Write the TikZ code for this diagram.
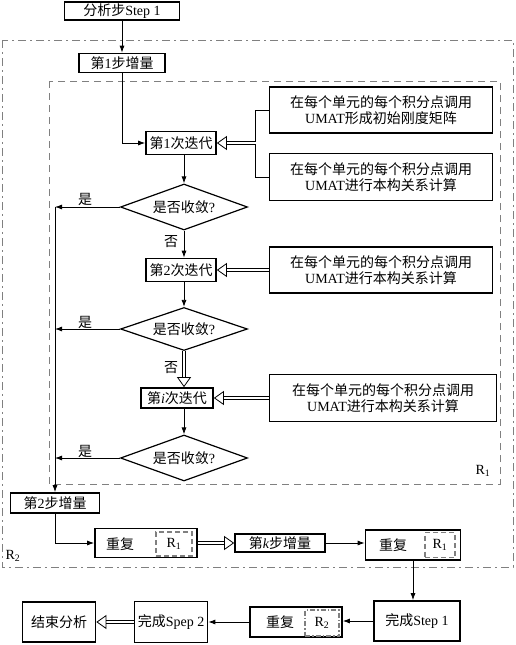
\documentclass[tikz,border=0pt]{standalone}
\usepackage{fontspec}
\setmainfont{Liberation Serif}
\newfontfamily\cjk{Noto Sans CJK SC}
\usetikzlibrary{arrows.meta,shapes.geometric}
\newcommand\myfs{\fontsize{14}{16.5}\selectfont}
\newcommand\zh[1]{{\cjk #1}}
\begin{document}
\begin{tikzpicture}[x=1pt,y=-1pt,
 box/.style={draw, line width=1.7pt, inner sep=0pt, align=center, font=\myfs},
 dia/.style={draw, diamond, line width=1.2pt, inner sep=0pt, minimum width=127pt, minimum height=46pt, aspect=2.7, font=\myfs},
 arr/.style={line width=0.8pt, -{Latex[length=7pt,width=5pt]}},
 ln/.style={line width=0.8pt},
 hol/.style={double, double distance=2.6pt, line width=0.8pt, -{Triangle[open,length=10pt,width=14pt]}},
 lab/.style={font=\myfs, inner sep=0pt},
 rone/.style={draw=gray, dash pattern=on 7pt off 5pt, line width=1pt},
 rtwo/.style={draw=gray, dash pattern=on 8pt off 4pt on 2pt off 4pt, line width=1pt},
 inr/.style={draw=gray, line width=1.3pt, inner sep=0pt, font=\myfs},
]
\useasboundingbox (0,0) rectangle (515,645);
\draw[rone] (49,81) rectangle (500,484);
\draw[rtwo] (2,40) rectangle (513,567);
\node[lab] (r1l) at (483,471) {R\textsubscript{1}};
\node[lab] (r2l) at (13,556) {R\textsubscript{2}};

\node[box, minimum width=115pt, minimum height=18pt] (s1) at (122,11) {\zh{分析步}Step 1};
\node[box, minimum width=86pt, minimum height=19pt] (inc1) at (122,63) {\zh{第}1\zh{步增量}};
\node[box, minimum width=70pt, minimum height=23pt] (it1) at (181,143) {\zh{第}1\zh{次迭代}};
\node[dia] (d1) at (184,207) {\zh{是否收敛}?};
\node[box, minimum width=70pt, minimum height=23pt] (it2) at (181,270) {\zh{第}2\zh{次迭代}};
\node[dia, minimum height=43pt] (d2) at (184,329) {\zh{是否收敛}?};
\node[box, minimum width=72pt, minimum height=20pt] (it3) at (177,398) {\zh{第}\textit{i}\zh{次迭代}};
\node[dia] (d3) at (184,458) {\zh{是否收敛}?};

\node[box, minimum width=223pt, minimum height=46pt] (ra) at (381,110) {\zh{在每个单元的每个积分点调用}\\UMAT\zh{形成初始刚度矩阵}};
\node[box, minimum width=223pt, minimum height=47pt] (rb) at (381,177) {\zh{在每个单元的每个积分点调用}\\UMAT\zh{进行本构关系计算}};
\node[box, minimum width=223pt, minimum height=46pt] (rc) at (381,270) {\zh{在每个单元的每个积分点调用}\\UMAT\zh{进行本构关系计算}};
\node[box, minimum width=227pt, minimum height=47pt] (rd) at (383,398) {\zh{在每个单元的每个积分点调用}\\UMAT\zh{进行本构关系计算}};

\node[box, minimum width=89pt, minimum height=20pt] (inc2) at (55,503) {\zh{第}2\zh{步增量}};
\node[box, minimum width=102pt, minimum height=29pt] (rep1) at (146,543) {};
\node[lab] (rep1t) at (120,544) {\zh{重复}};
\node[inr, dash pattern=on 5pt off 3pt, minimum width=36pt, minimum height=24pt] (rep1r) at (174,544) {R\textsubscript{1}};
\node[box, minimum width=90pt, minimum height=18pt] (inck) at (280,543) {\zh{第}\textit{k}\zh{步增量}};
\node[box, minimum width=95pt, minimum height=30pt] (rep2) at (413,545) {};
\node[lab] (rep2t) at (393,545) {\zh{重复}};
\node[inr, dash pattern=on 5pt off 3pt, minimum width=30pt, minimum height=25pt] (rep2r) at (440,545) {R\textsubscript{1}};

\node[box, minimum width=86pt, minimum height=40pt] (fin1) at (417,621) {\zh{完成}Step 1};
\node[box, minimum width=92pt, minimum height=30pt] (rep3) at (296,622) {};
\node[lab] (rep3t) at (280,622) {\zh{重复}};
\node[inr, dash pattern=on 5pt off 2pt on 1.5pt off 2pt, minimum width=34pt, minimum height=26pt] (rep3r) at (322,623) {R\textsubscript{2}};
\node[box, minimum width=73pt, minimum height=41pt] (fin2) at (171,622) {\zh{完成}Spep 2};
\node[box, minimum width=73pt, minimum height=40pt] (endn) at (59,622) {\zh{结束分析}};

% connectors
\draw[arr] (s1.south) -- (s1.south |- inc1.north);
\draw[arr] (inc1.south) |- (it1.west);
\draw[arr] (d1.north |- it1.south) -- (d1.north);
\draw[arr] (d1.south) -- (d1.south |- it2.north);
\draw[arr] (d2.north |- it2.south) -- (d2.north);
\draw[hol] (d2.south) -- (d2.south |- it3.north);
\draw[arr] (d3.north |- it3.south) -- (d3.north);
\draw[arr] (d1.west) -- (d1.west -| inc2.north);
\draw[arr] (d2.west) -- (d2.west -| inc2.north);
\draw[arr] (d3.west) -- (d3.west -| inc2.north);
\draw[arr] (inc2.north |- d1.west) -- (inc2.north);
\node[lab] (y1) at (85,199) {\zh{是}};
\node[lab] (y2) at (85,322) {\zh{是}};
\node[lab] (y3) at (85,451) {\zh{是}};
\node[lab] (n1) at (171,242) {\zh{否}};
\node[lab] (n2) at (171,368) {\zh{否}};

\draw[ln] (ra.west) -- ++(-13,0) coordinate (bra) |- (rb.west);
\coordinate (brm) at (bra |- it1.east);
\draw[hol] (brm) -- (it1.east);
\draw[hol] (rc.west) -- (it2.east);
\draw[hol] (rd.west) -- (it3.east);

\draw[arr] (inc2.south) |- (rep1.west);
\draw[hol] (rep1.east) -- (rep1.east -| inck.west);
\draw[arr] (inck.east) -- (inck.east -| rep2.west);
\draw[arr] (rep2.south) -- (rep2.south |- fin1.north);
\draw[arr] (fin1.west) -- (fin1.west -| rep3.east);
\draw[arr] (rep3.west) -- (rep3.west -| fin2.east);
\draw[hol] (fin2.west) -- (fin2.west -| endn.east);
\end{tikzpicture}
\end{document}
